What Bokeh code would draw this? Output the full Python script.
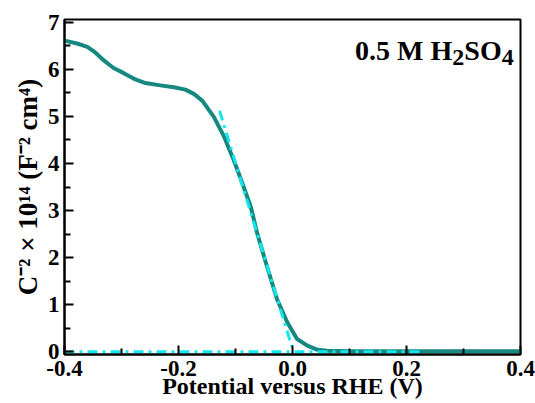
from bokeh.plotting import figure
from bokeh.models import Range1d, FixedTicker, NumeralTickFormatter
from bokeh.core.properties import value
from bokeh.embed import file_html
from bokeh.resources import INLINE

# Mott-Schottky curve (C^-2 x 10^14, F^-2 cm^4) vs potential (V vs RHE)
potential = [-0.400, -0.378, -0.360, -0.346, -0.331, -0.314, -0.296, -0.278,
             -0.258, -0.232, -0.208, -0.188, -0.173, -0.158, -0.138, -0.120,
             -0.103, -0.088, -0.073, -0.062, -0.045, -0.027, -0.009, 0.008,
             0.026, 0.044, 0.061, 0.100, 0.200, 0.300, 0.400]
csq = [6.61, 6.55, 6.48, 6.36, 6.19, 6.03, 5.92, 5.80,
       5.71, 5.66, 5.62, 5.57, 5.48, 5.33, 4.99, 4.57,
       4.07, 3.58, 3.07, 2.52, 1.82, 1.11, 0.62, 0.27,
       0.13, 0.04, 0.02, 0.01, 0.01, 0.01, 0.01]

# linear extrapolation and baseline (dash-dot cyan)
fit_x = [-0.128, -0.001]
fit_y = [5.12, 0.10]
base_x = [-0.400, 0.225]
base_y = [0.0, 0.0]

x_ticks = [-0.4, -0.2, 0.0, 0.2, 0.4]
x_minor = [-0.3, -0.1, 0.1, 0.3]
y_ticks = [0, 1, 2, 3, 4, 5, 6, 7]
y_minor = [0.5, 1.5, 2.5, 3.5, 4.5, 5.5, 6.5]

x_label = "Potential versus RHE (V)"
y_label = "C\u207b\u00b2 \u00d7 10\u00b9\u2074 (F\u207b\u00b2 cm\u2074)"
title_parts = ["0.5 M H", "2", "SO", "4"]
title_sub = [False, True, False, True]

FONT = "Liberation Serif"
# approximate advance widths (em) of Liberation Serif Bold, for piecing text
ADV = {"0": .5, "2": .5, "4": .5, "5": .5, ".": .25, " ": .25,
       "M": .944, "H": .778, "S": .556, "O": .778}


def text_width(s, fs):
    return sum(ADV.get(ch, .5) for ch in s) * fs


p = figure(width=535, height=403, output_backend="svg", toolbar_location=None,
           x_range=Range1d(-0.4, 0.4), y_range=Range1d(-0.06, 7.06),
           min_border_left=64, min_border_right=15, min_border_top=19,
           min_border_bottom=49)

p.grid.visible = False
p.background_fill_color = "white"
p.border_fill_color = "white"
p.outline_line_color = "black"
p.outline_line_width = 2

p.line(potential, csq, line_color="#15897f", line_width=4, line_join="round")
p.line(fit_x, fit_y, line_color="#12e6ee", line_width=3, line_dash="10 5 3 5")
p.line(base_x, base_y, line_color="#12e6ee", line_width=3, line_dash="10 5 3 5")

for ax in (p.xaxis[0], p.yaxis[0]):
    ax.axis_line_color = "black"
    ax.axis_line_width = 2
    ax.major_tick_line_color = "black"
    ax.minor_tick_line_color = "black"
    ax.major_tick_line_width = 2
    ax.minor_tick_line_width = 2
    ax.major_tick_in = 9
    ax.major_tick_out = 0
    ax.minor_tick_in = 6
    ax.minor_tick_out = 0
    ax.major_label_text_font = FONT
    ax.major_label_text_font_style = "bold"
    ax.major_label_text_font_size = "23px"
    ax.major_label_text_color = "black"
    ax.axis_label_text_font = FONT
    ax.axis_label_text_font_style = "bold"
    ax.axis_label_text_color = "black"

p.xaxis.ticker = FixedTicker(ticks=x_ticks, minor_ticks=x_minor)
p.yaxis.ticker = FixedTicker(ticks=y_ticks, minor_ticks=y_minor)
p.xaxis.formatter = NumeralTickFormatter(format="0.0")
p.yaxis.formatter = NumeralTickFormatter(format="0")
p.xaxis.major_label_standoff = 6
p.xaxis.axis_label_standoff = -6
p.xaxis.axis_label_text_font_size = "24px"
p.yaxis.major_label_standoff = 5
p.yaxis.axis_label_standoff = 2
p.yaxis.axis_label_text_font_size = "27px"
p.xaxis.axis_label = x_label
p.yaxis.axis_label = y_label

# "0.5 M H2SO4" pieced together, anchored at the right edge
t_main, t_sub = 28, 24
xo = 0.0
pieces = []
for part, sub in reversed(list(zip(title_parts, title_sub))):
    fs = t_sub if sub else t_main
    pieces.append((part, sub, fs, xo))
    xo -= text_width(part, fs)
for part, sub, fs, off in pieces:
    p.text(x=[0.388], y=[6.40], text=[part], x_offset=off, y_offset=7 if sub else 0,
           text_align="right", text_baseline="alphabetic",
           text_font=value(FONT), text_font_style="bold",
           text_font_size=value(f"{fs}px"), text_color="black")

open("out.html", "w").write(file_html(p, INLINE))
